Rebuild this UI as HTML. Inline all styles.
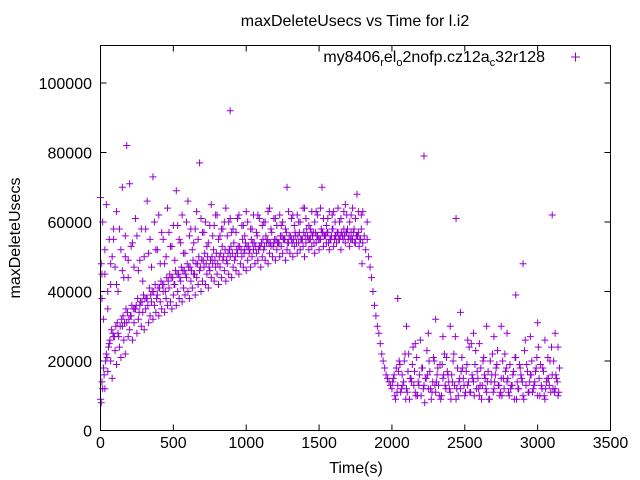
<!DOCTYPE html>
<html><head><meta charset="utf-8"><style>
body{margin:0;background:#fff}
svg{display:block;font-family:"Liberation Sans",sans-serif}
</style></head><body>
<svg id="chart" width="640" height="480">
<text x="355" y="26" font-size="16" text-anchor="middle">maxDeleteUsecs vs Time for l.i2</text>
<text x="356" y="473" font-size="16" text-anchor="middle">Time(s)</text>
<text transform="translate(20,238) rotate(-90)" font-size="16" text-anchor="middle">maxDeleteUsecs</text>
<g id="ticks"></g>
<g id="points"></g>
<rect x="100.5" y="45.5" width="510" height="385" fill="none" stroke="#000" stroke-width="1"/>
<g>
<text x="545" y="62" font-size="16" text-anchor="end">my8406<tspan font-size="11" dy="4">r</tspan><tspan dy="-4">el</tspan><tspan font-size="11" dy="4">o</tspan><tspan dy="-4">2nofp.cz12a</tspan><tspan font-size="11" dy="4">c</tspan><tspan dy="-4">32r128</tspan></text>
<path d="M571 57h9M575.5 52.5v9" stroke="#9400d3" stroke-width="1"/>
</g>
</svg>
<script>
const xTicks=[0,500,1000,1500,2000,2500,3000,3500];
const yTicks=[0,20000,40000,60000,80000,100000];
const bandStart=0, bandStep=10;
const bandValues=[9,14,18,12,22,17,25,20,15,27,23,19,28,24,21,30,26,22,31,27,
29,33,26,31,35,28,32,36,30,34,29,35,38,31,33,37,32,36,34,39,
33,37,35,40,34,38,36,41,37,35,39,42,36,40,38,43,37,41,39,44,
40,38,43,41,45,39,44,42,46,40,43,47,42,45,41,46,44,48,43,47,
45,42,47,44,49,46,43,48,45,50,44,47,49,46,51,45,48,50,47,52,
46,49,51,47,50,52,48,51,49,53,47,50,52,49,54,48,51,53,50,54,
49,52,54,50,53,51,55,49,52,54,51,55,50,53,56,51,54,52,55,53,
50,54,56,52,55,53,57,51,54,56,52,55,57,53,56,54,57,52,55,58,
53,56,54,57,55,52,56,58,54,57,55,53,57,55,58,54,56,57,55,58,
54,56,52,55,50,47,44,40,36,33,30,28,25,22,20,18,16,15,14,13,
12,15,10,18,13,20,11,16,14,22,12,17,9,15,19,13,11,21,14,16,
10,18,13,15,23,12,17,9,14,20,11,16,13,19,10,15,22,12,17,14,
11,16,20,13,9,18,14,12,21,15,10,17,13,24,11,16,14,19,12,15,
10,18,13,21,15,11,17,9,14,22,12,16,19,13,10,15,20,12,17,14,
11,19,13,16,9,21,14,12,18,15,10,23,13,17,11,16,20,12,14,18,
10,15,19,12,17,9,14,21,13,11,16,20,12,15,10,18];
const lowerEdgeStart=5, lowerEdgeStep=20;
const lowerEdgeValues=[8,16,21,26,28,30,27,32,31,34,33,35,36,34,37,38,36,39,40,38,41,42,40,43,44,42,45,44,46,45,47,46,45,48,47,49,48,47,50,49,48,51,50,49,52,51,50,53,52,51,53,52,54,53,52,54,53,55,54,53,55,54,56,55,54,56,55,54,57,55,56,55,57,54,56,55,57,56,54,56,55,57,56,55,57,56,55,54,56,55];
const bandBStart=15, bandBStep=20;
const bandBValues=[12,20,24,29,27,31,30,33,35,32,36,35,38,37,39,38,41,40,42,41,43,42,44,45,44,46,45,47,46,48,47,49,48,50,49,51,50,49,52,51,50,53,52,51,53,54,52,53,55,54,53,55,54,56,53,55,56,54,57,55,54,56,55,57,56,54,57,56,55,57,58,55,56,57,55,58,56,57,55,58,56,55,57,56,58,55,57,56,53,48];
const midStart=10, midStep=20;
const midValues=[45,52,40,48,55,42,58,46,50,44,53,47,56,49,43,58,51,47,60,52,
48,55,50,57,53,49,59,54,51,60,56,52,58,55,61,57,53,59,56,62,
55,58,60,56,61,58,57,62,59,56,60,58,62,57,61,59,60,63,58,61,
59,62,60,58,63,61,59,62,60,64,61,59,63,60,62,64,61,59,63,62,
60,64,61,63,62,60,64,61,63,62];
const tailStart=2005, tailStep=20;
const tailValues=[14,9,17,12,20,11,15,24,10,13,18,8,16,12,21,14,10,19,13,16,9,22,12,15,18,11,14,25,10,17,13,20,12,9,16,14,23,11,15,18,10,13,21,12,16,9,19,14,11,17,24,13,10,15,20,12,16,11];
const tail2Start=2015, tail2Step=20;
const tail2Values=[16,11,19,13,9,22,14,17,10,26,12,15,20,11,13,18,9,16,21,12,14,27,10,17,13,19,11,15,23,12,9,16,14,20,11,18,13,10,22,15,12,17,9,19,14,26,11,16,13,21,10,18,12,15,24,11,14];
const scatterTimes=[0,5,10,15,20,30,40,50,60,70,80,90,100,110,120,140,150,160,170,180,190,200,220,240,260,280,300,320,340,360,380,400,420,440,460,480,500,520,540,560,580,600,620,640,660,680,700,720,740,760,780,800,820,840,860,880,890,900,940,980,1000,1040,1080,1120,1160,1200,1240,1280,1320,1360,1400,1440,1480,1520,1560,1600,1640,1680,1720,1760,1800,1830,
2040,2100,2160,2220,2250,2300,2350,2400,2440,2470,2520,2560,2600,2650,2700,2750,2790,2850,2900,2950,3000,3050,3100,3120,3140];
const scatterValues=[67,48,38,60,32,45,65,35,55,42,50,58,47,63,40,52,70,44,56,82,49,71,54,61,46,58,50,66,55,73,52,62,57,48,64,53,59,69,55,62,51,66,58,54,63,77,57,60,54,65,59,62,56,58,64,60,92,57,61,59,63,58,62,60,64,61,59,70,62,60,64,58,63,70,61,63,60,65,62,68,63,60,
38,30,25,79,28,32,27,30,61,34,26,28,25,30,27,30,28,39,48,27,31,26,62,28,24];

const X0=100.5,X1=610.5,Y0=430.5,YTOP=45.5;
const yPerK=(430.5-83)/100000;
const xScale=t=>X0+t*(X1-X0)/3500;
const yScale=v=>Y0-v*yPerK;
const NS="http://www.w3.org/2000/svg";
const tg=document.getElementById('ticks');
xTicks.forEach(t=>{
  const x=xScale(t);
  const p=document.createElementNS(NS,'path');
  p.setAttribute('d',`M${x} ${Y0}v-6M${x} ${YTOP}v6`);p.setAttribute('stroke','#000');
  
  
  tg.appendChild(p);
  const l=document.createElementNS(NS,'text');
  l.setAttribute('x',x);l.setAttribute('y',448);l.setAttribute('font-size','16');l.setAttribute('text-anchor','middle');
  l.textContent=t;
  
  
  tg.appendChild(l);
});
yTicks.forEach(v=>{
  const y=yScale(v);
  const p=document.createElementNS(NS,'path');
  p.setAttribute('d',`M${X0} ${y}h6M${X1} ${y}h-6`);p.setAttribute('stroke','#000');
  
  
  tg.appendChild(p);
  const l=document.createElementNS(NS,'text');
  l.setAttribute('x',92);l.setAttribute('y',y+6);l.setAttribute('font-size','16');l.setAttribute('text-anchor','end');
  l.textContent=v;
  
  
  tg.appendChild(l);
});
const pg=document.getElementById('points');
function plus(t,v){
  const x=xScale(t),y=yScale(v*1000);
  const p=document.createElementNS(NS,'path');
  p.setAttribute('d',`M${x-3.5} ${y}h7M${x} ${y-3.5}v7`);
  p.setAttribute('stroke','#9400d3');
  
  
  pg.appendChild(p);
}
bandValues.forEach((v,i)=>plus(bandStart+bandStep*i,v));
lowerEdgeValues.forEach((v,i)=>plus(lowerEdgeStart+lowerEdgeStep*i,v));
bandBValues.forEach((v,i)=>plus(bandBStart+bandBStep*i,v));
midValues.forEach((v,i)=>plus(midStart+midStep*i,v));
tailValues.forEach((v,i)=>plus(tailStart+tailStep*i,v));
tail2Values.forEach((v,i)=>plus(tail2Start+tail2Step*i,v));
scatterValues.forEach((v,i)=>plus(scatterTimes[i],v));
</script>
</body></html>
